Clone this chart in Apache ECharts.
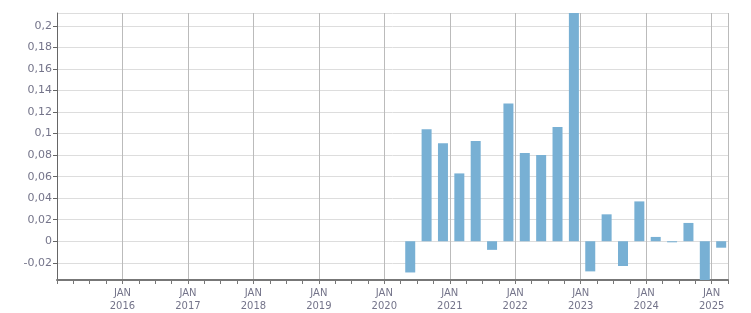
<!DOCTYPE html>
<html>
<head>
<meta charset="utf-8">
<script src="https://cdn.jsdelivr.net/npm/echarts@6/dist/echarts.min.js"></script>
<style>html,body{margin:0;padding:0;background:#fff;}#c{width:751px;height:313px;}</style>
</head>
<body>
<div id="c"></div>
<script>
// Quarterly periods (mid-quarter months) and values
var periods = ["2020-05","2020-08","2020-11","2021-02","2021-05","2021-08","2021-11","2022-02","2022-05","2022-08","2022-11","2023-02","2023-05","2023-08","2023-11","2024-02","2024-05","2024-08","2024-11","2025-02"];
var values = [-0.029,0.104,0.091,0.063,0.093,-0.008,0.128,0.082,0.080,0.106,0.215,-0.028,0.025,-0.023,0.037,0.004,-0.001,0.017,-0.040,-0.006];
var tickMonthLabel = "JAN";

function toYear(p){ var a=p.split("-"); return +a[0] + (+a[1]-0.25)/12; }
var data = periods.map(function(p,i){ return [toYear(p), values[i]]; });

var chart = echarts.init(document.getElementById('c'));
chart.setOption({
  animation:false,
  grid:{left:57,right:23,top:13,bottom:32},
  xAxis:{
    type:'value', min:2015, max:2025.25, interval:1,
    axisLine:{onZero:false,lineStyle:{color:'#777',width:2}},
    axisTick:{show:true,length:4,lineStyle:{color:'#777'}},
    minorTick:{show:true,splitNumber:4,length:4,lineStyle:{color:'#777'}},
    splitLine:{show:true,lineStyle:{color:'#bbb',width:1}},
    axisLabel:{showMinLabel:false,color:'#74748a',fontFamily:'DejaVu Sans',fontSize:10,lineHeight:13,margin:7,
      formatter:function(v){ return Number.isInteger(v)? tickMonthLabel+"\n"+v : ''; }}
  },
  yAxis:{
    type:'value', min:-0.036, max:0.212, splitNumber:12,
    axisLine:{show:true,onZero:false,lineStyle:{color:'#666',width:1}},
    axisTick:{show:true,length:4,lineStyle:{color:'#666'}},
    splitLine:{show:true,lineStyle:{color:'#ddd',width:1}},
    axisLabel:{showMinLabel:false,showMaxLabel:false,color:'#74748a',fontFamily:'DejaVu Sans',fontSize:11,margin:5,
      formatter:function(v){ return String(+v.toFixed(4)).replace('.',','); }}
  },
  series:[{type:'bar',data:data,barWidth:10,itemStyle:{color:'#78b0d4'}}]
});
</script>
</body>
</html>
